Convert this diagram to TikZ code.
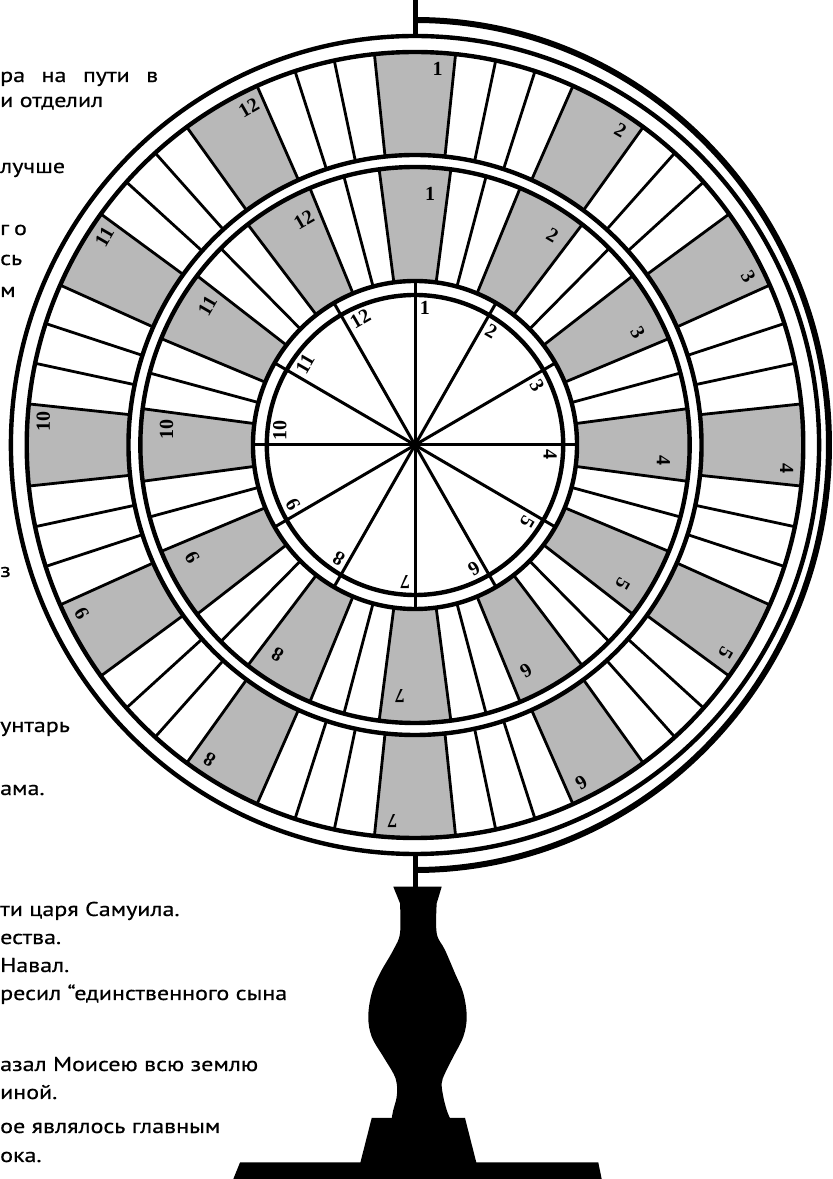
\documentclass[tikz,border=0pt]{standalone}
\usepackage{fontspec}
\setmainfont{PT Sans}[FakeStretch=1.2, FakeBold=0.6]
\newfontfamily\numfont{Liberation Serif}
\usepackage{tikz}

\tikzset{
  cell/.style={fill=black!28},
  cellline/.style={line width=2.8pt},
  ringline/.style={line width=4.4pt},
  spoke/.style={line width=3pt},
  post/.style={line width=5pt},
  numlbl/.style={font={\numfont\bfseries\fontsize{20}{20}\selectfont}, inner sep=0pt},
  frag/.style={font={\fontsize{20}{24}\selectfont}, anchor=base west, inner sep=0pt},
}

\begin{document}
\begin{tikzpicture}[x=1pt,y=1pt]
  \useasboundingbox (0,0) rectangle (833,1179);
  \clip (0,0) rectangle (833,1179);

  % 左侧文字（被裁切）
  \node[frag] (frag1) at (0,1097) {\makebox[158pt][s]{ра на пути в}};
  \node[frag] (frag2) at (0,1072) {и отделил};
  \node[frag] (frag3) at (0,1006) {лучше};
  \node[frag] (frag4) at (0,944) {г\hspace{5pt}о};
  \node[frag] (frag5) at (0,914) {сь};
  \node[frag] (frag6) at (0,882) {м};
  \node[frag] (frag7) at (0,602) {з};
  \node[frag] (frag8) at (0,447) {унтарь};
  \node[frag] (frag9) at (0,384) {ама.};
  \node[frag] (frag10) at (0,263) {ти царя Самуила.};
  \node[frag] (frag11) at (0,235) {ества.};
  \node[frag] (frag12) at (0,207) {Навал.};
  \node[frag] (frag13) at (0,179) {ресил “единственного сына};
  \node[frag] (frag14) at (0,108) {азал Моисею всю землю};
  \node[frag] (frag15) at (0,80) {иной.};
  \node[frag] (frag16) at (0,46) {ое являлось главным};
  \node[frag] (frag17) at (0,17) {ока.};

  % 轮盘
  \begin{scope}[shift={(415,734)}, xscale=0.988]
    % 阴影格与分隔线
    \foreach \k in {1,...,12} {
      \pgfmathsetmacro\t{90-30*(\k-1)}
      \pgfmathsetmacro\oa{\t-6}
      \pgfmathsetmacro\ob{\t+6}
      \pgfmathsetmacro\ma{\t-7.5}
      \pgfmathsetmacro\mb{\t+7.5}
      \fill[cell] (\oa:290) arc[start angle=\oa, end angle=\ob, radius=290]
        -- (\ob:393) arc[start angle=\ob, end angle=\oa, radius=393] -- cycle;
      \fill[cell] (\ma:164) arc[start angle=\ma, end angle=\mb, radius=164]
        -- (\mb:278) arc[start angle=\mb, end angle=\ma, radius=278] -- cycle;
      \foreach \d in {-6,6,12,18}
        \draw[cellline] ({\t+\d}:290) -- ({\t+\d}:393);
      \foreach \d in {-7.5,7.5,15}
        \draw[cellline] ({\t+\d}:164) -- ({\t+\d}:278);
      \draw[spoke] (0,0) -- (\t:164);
    }
    % 圆环
    \foreach \r in {150,164,278,290,393,409}
      \draw[ringline] (0,0) circle[radius=\r];
    \draw[line width=6pt] (0,425) arc[start angle=90, end angle=-90, x radius=419, y radius=425];
    % 数字
    \foreach \k in {1,...,12} {
      \pgfmathsetmacro\t{90-30*(\k-1)}
      \pgfmathsetmacro\rot{\t-90}
      \node[numlbl, rotate=\rot, anchor=west] (hub\k) at ({\t-2}:137) {\k};
      \node[numlbl, rotate=\rot] (mid\k) at ({\t-3.5}:252) {\k};
      \node[numlbl, rotate=\rot] (out\k) at ({\t-3.5}:377) {\k};
    }
  \end{scope}

  % 轴与支架
  \draw[post] (415,1143) -- (415,1179);
  \draw[post] (415,325) -- (415,290);
  \fill (393.3,292.3) -- (441.7,292.3) -- plot[smooth, tension=0.6] coordinates {(436.7,275.7) (436.7,245.7) (445,229) (455,205.7) (463.3,185.7) (466.7,162.3) (463.3,142.3) (453.3,122.3) (445,105.7) (441.7,95.7) (443.3,82.3) (446.7,69) (450,60.7)}
    -- (391.7,60.7) -- plot[smooth, tension=0.6] coordinates {(391.7,60.7) (393.3,69) (396.7,82.3) (396.7,95.7) (393.3,105.7) (383.3,122.3) (371.7,142.3) (368.3,162.3) (371.7,185.7) (380,205.7) (393.3,229) (400,245.7) (400,275.7)} -- cycle;
  \fill (371.7,61) -- (465,61) -- (476.7,15) -- (360,15) -- cycle;
  \fill (240,16.5) -- (598.3,16.5) -- (601.7,0) -- (233.3,0) -- cycle;
\end{tikzpicture}
\end{document}
